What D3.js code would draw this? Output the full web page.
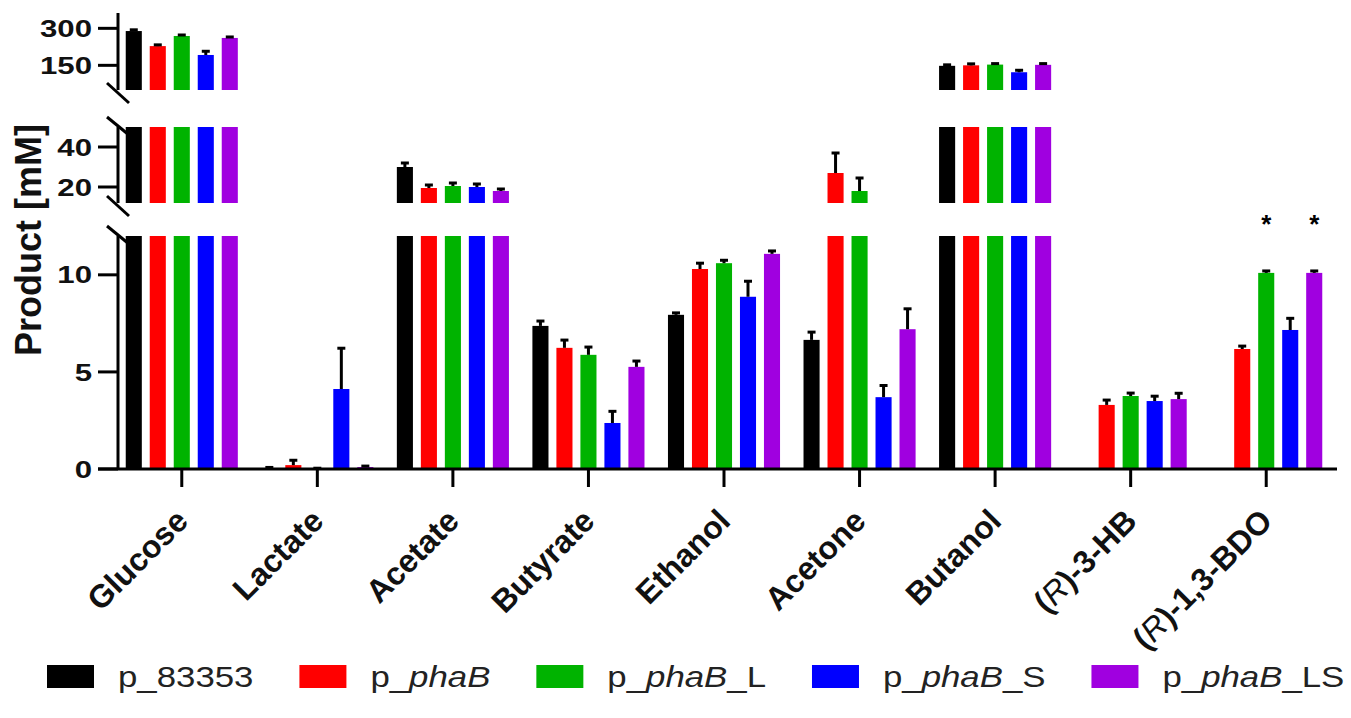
<!DOCTYPE html>
<html>
<head>
<meta charset="utf-8">
<style>
body { margin: 0; background: #fff; }
svg { font-family: Arial, "Liberation Sans", sans-serif; }
.tick-label { font-size: 24px; font-weight: bold; fill: #111; }
.cat-label { font-size: 32px; font-weight: bold; fill: #111; }
.legend text { font-size: 30px; fill: #222; }
</style>
</head>
<body>
<svg width="1351" height="718"></svg>
<script src="https://d3js.org/d3.v7.min.js"></script>
<script>

// categories and series
var categories = ["Glucose", "Lactate", "Acetate", "Butyrate", "Ethanol", "Acetone", "Butanol", "(R)-3-HB", "(R)-1,3-BDO"];
var series = ["p_83353", "p_phaB", "p_phaB_L", "p_phaB_S", "p_phaB_LS"];
var colors = ["#000000", "#ff0000", "#00b300", "#0000ff", "#a000e0"];

// mean values [mM], one array per strain (null = not measured)
var p_83353   = [289, 0.05, 30,   7.37, 7.94, 6.65, 148, null, null];
var p_phaB    = [228, 0.2,  19.5, 6.24, 10.3, 27,   150, 3.3,  6.18];
var p_phaB_L  = [269, 0.02, 20.5, 5.88, 10.6, 18,   153, 3.76, 10.1];
var p_phaB_S  = [192, 4.12, 20,   2.37, 8.87, 3.7,  122, 3.5,  7.16];
var p_phaB_LS = [261, 0.1,  18,   5.26, 11.08, 7.2, 152, 3.6,  10.1];

// standard deviations
var err_83353   = [5,  0.03, 2,   0.25, 0.1,  0.4,  4, null, null];
var err_phaB    = [5,  0.25, 1.5, 0.4,  0.3,  10,   6, 0.25, 0.15];
var err_phaB_L  = [4,  0.02, 1.5, 0.4,  0.15, 6.5,  4, 0.15, 0.1];
var err_phaB_S  = [15, 2.1,  1.5, 0.6,  0.8,  0.6,  8, 0.25, 0.6];
var err_phaB_LS = [4,  0.05, 1,   0.3,  0.15, 1.05, 5, 0.3,  0.1];

var means = [p_83353, p_phaB, p_phaB_L, p_phaB_S, p_phaB_LS];
var errs = [err_83353, err_phaB, err_phaB_L, err_phaB_S, err_phaB_LS];

// significance marks: [category, series]
var stars = [["(R)-1,3-BDO", "p_phaB_L"], ["(R)-1,3-BDO", "p_phaB_LS"]];

// broken y axis segments
var segTicks = [[0, 5, 10], [20, 40], [150, 300]];
var segments = [
  {y: d3.scaleLinear().domain([0, 12]).range([469, 236])},
  {y: d3.scaleLinear().domain([12, 50]).range([203, 127])},
  {y: d3.scaleLinear().domain([50, 350]).range([90, 16])}
];
segments.forEach(function(s, i) { s.ticks = segTicks[i]; });

var svg = d3.select("svg");
var axisX = 118;
var baseY = 469;

var x0 = d3.scaleBand().domain(categories).range([114, 1334]);
var x1 = d3.scaleBand().domain(series).range([-60, 60]).paddingInner(0.33).paddingOuter(0.165);

// flatten
var rows = [];
categories.forEach(function(c, ci) {
  series.forEach(function(s, si) {
    if (means[si][ci] != null) rows.push({cat: c, ser: s, si: si, v: means[si][ci], e: errs[si][ci]});
  });
});

function barX(d) { return x0(d.cat) + x0.bandwidth() / 2 + x1(d.ser); }

// bars, split over segments
var gBars = svg.append("g");
segments.forEach(function(seg) {
  var lo = seg.y.domain()[0], hi = seg.y.domain()[1];
  gBars.selectAll(null)
    .data(rows.filter(function(d) { return d.v > lo; }))
    .enter().append("rect")
    .attr("x", barX)
    .attr("width", x1.bandwidth())
    .attr("y", function(d) { return seg.y(Math.min(d.v, hi)); })
    .attr("height", function(d) { return seg.y(lo) - seg.y(Math.min(d.v, hi)); })
    .attr("fill", function(d) { return colors[d.si]; });
});

// error bars (upper only) in the segment that holds the mean
function segOf(v) {
  for (var i = 0; i < segments.length; i++) {
    var dm = segments[i].y.domain();
    if (v <= dm[1]) return segments[i];
  }
  return segments[segments.length - 1];
}
var gErr = svg.append("g").attr("stroke", "#000").attr("stroke-width", 3);
rows.forEach(function(d) {
  var seg = segOf(d.v);
  var cx = barX(d) + x1.bandwidth() / 2;
  var y1 = seg.y(d.v), y2 = seg.y(d.v + d.e);
  gErr.append("line").attr("x1", cx).attr("x2", cx).attr("y1", y1).attr("y2", y2);
  gErr.append("line").attr("x1", cx - 4).attr("x2", cx + 4).attr("y1", y2).attr("y2", y2);
});

// y axis segments
var gAxis = svg.append("g").attr("stroke", "#000").attr("stroke-width", 3).attr("fill", "none");
segments.forEach(function(seg, i) {
  var r = seg.y.range();
  var top = i == segments.length - 1 ? r[1] - 3 : r[1];
  gAxis.append("line").attr("x1", axisX).attr("x2", axisX).attr("y1", r[0]).attr("y2", top);
  seg.ticks.forEach(function(t) {
    gAxis.append("line").attr("x1", axisX - 20).attr("x2", axisX).attr("y1", seg.y(t)).attr("y2", seg.y(t));
    svg.append("text").attr("class", "tick-label")
      .attr("transform", "translate(" + (axisX - 26) + "," + seg.y(t) + ") scale(1.3,1)")
      .attr("dy", "0.36em")
      .attr("text-anchor", "end").text(t);
  });
  // break marks
  if (i > 0) gAxis.append("line").attr("x1", axisX - 11).attr("x2", axisX + 11).attr("y1", r[0] - 7).attr("y2", r[0] + 13);
  if (i < segments.length - 1) gAxis.append("line").attr("x1", axisX - 11).attr("x2", axisX + 11).attr("y1", r[1] - 10).attr("y2", r[1] + 8);
});

// x axis
gAxis.append("line").attr("x1", axisX - 20).attr("x2", 1337).attr("y1", baseY).attr("y2", baseY);
categories.forEach(function(c) {
  var cx = x0(c) + x0.bandwidth() / 2;
  gAxis.append("line").attr("x1", cx).attr("x2", cx).attr("y1", baseY).attr("y2", baseY + 18);
  var t = svg.append("text").attr("class", "cat-label")
    .attr("transform", "translate(" + (cx + 8) + "," + (baseY + 54) + ") rotate(-45)")
    .attr("text-anchor", "end");
  var m = c.match(/^\((R)\)(.*)$/);
  if (m) {
    t.append("tspan").text("(");
    t.append("tspan").attr("font-style", "italic").attr("font-weight", "normal").text(m[1]);
    t.append("tspan").text(")" + m[2]);
  } else {
    t.text(c);
  }
});

// stars
stars.forEach(function(s) {
  var cx = x0(s[0]) + x0.bandwidth() / 2 + x1(s[1]) + x1.bandwidth() / 2;
  svg.append("text").attr("x", cx).attr("y", 233).attr("text-anchor", "middle")
    .attr("font-size", 26).attr("font-weight", "bold").text("*");
});

// y title
svg.append("text")
  .attr("transform", "translate(41,240) rotate(-90)")
  .attr("text-anchor", "middle")
  .attr("font-size", 36).attr("font-weight", "bold").attr("fill", "#111")
  .text("Product [mM]");

// legend, laid out in a row: swatch, label, gap
var legScale = 1.16;
var leg = svg.append("g").attr("class", "legend");
var lx = 47;
series.forEach(function(s, i) {
  leg.append("rect").attr("x", lx).attr("y", 665).attr("width", 47).attr("height", 23).attr("fill", colors[i]);
  var t = leg.append("text").attr("transform", "translate(" + (lx + 71) + ",687) scale(" + legScale + ",1)");
  var m = s.match(/^p_(phaB)?(.*)$/);
  t.append("tspan").text("p_");
  if (m[1]) {
    t.append("tspan").attr("font-style", "italic").text(m[1]);
    t.append("tspan").text(m[2]);
  } else {
    t.append("tspan").text(m[2]);
  }
  lx += 71 + t.node().getComputedTextLength() * legScale + 46;
});

</script>
</body>
</html>
